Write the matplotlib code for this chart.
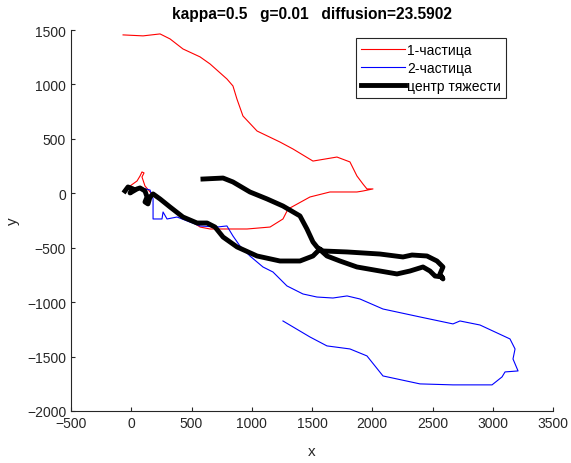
import matplotlib
matplotlib.use("Agg")
from matplotlib import pyplot as plt

plt.rcParams['font.family'] = ['Liberation Sans', 'DejaVu Sans']

# particle 1 (red), from start to end
x1 = [-52, -10, 48, 73, 89, 106, 89, 114, 156, 280, 446, 571, 654, 820, 961,
      1152, 1259, 1301, 1483, 1649, 1873, 1923, 2006, 1956, 1923, 1873, 1815,
      1707, 1508, 1342, 1234, 1044, 927, 877, 844, 794, 654, 571, 429, 322,
      239, 98, -68]
y1 = [40, 67, 113, 159, 196, 187, 150, 67, 12, -98, -218, -310, -328, -328,
      -328, -310, -236, -145, -34, 12, 12, 21, 40, 40, 85, 159, 288, 333, 296,
      407, 471, 572, 710, 866, 986, 1050, 1188, 1253, 1326, 1418, 1464, 1446,
      1455]

# particle 2 (blue)
x2 = [-10, 89, 156, 181, 181, 255, 264, 297, 380, 571, 712, 794, 844, 902,
      985, 1093, 1176, 1292, 1425, 1541, 1674, 1791, 1898, 2089, 2396, 2670,
      2728, 2894, 3143, 3185, 3168, 3210, 3102, 3077, 2994, 2670, 2396, 2089,
      1956, 1815, 1624, 1483, 1259]
y2 = [12, 49, 30, -52, -236, -236, -172, -236, -218, -300, -310, -300, -392,
      -484, -576, -677, -723, -851, -925, -953, -962, -943, -971, -1063, -1136,
      -1200, -1173, -1210, -1338, -1430, -1522, -1632, -1641, -1687, -1760,
      -1760, -1751, -1678, -1494, -1430, -1402, -1320, -1173]

# centre of mass (black)
xc = [-52, -27, 15, -10, 48, 73, 114, 131, 114, 139, 156, 181, 239, 322, 429,
      546, 629, 695, 762, 878, 1044, 1234, 1400, 1508, 1566, 1591, 1791, 2064,
      2255, 2330, 2454, 2537, 2587, 2562, 2587, 2579, 2521, 2479, 2421, 2313,
      2205, 2064, 1873, 1732, 1624, 1541, 1508, 1458, 1400, 1259, 1127, 985,
      844, 762, 595]
yc = [21, 58, 40, 3, 40, 49, 21, -34, -80, -98, -34, -6, -52, -126, -218,
      -273, -273, -310, -402, -493, -576, -622, -622, -576, -512, -530, -539,
      -558, -585, -567, -576, -622, -677, -741, -787, -769, -760, -714, -677,
      -714, -741, -714, -677, -622, -576, -493, -447, -328, -208, -117, -52,
      12, 104, 140, 131]

fig = plt.figure(figsize=(5.71, 4.64), dpi=100)
ax = fig.add_axes([71/571, 1 - 412/464, (553-71)/571, (412-31)/464])

ax.plot(x1, y1, color=(1, 0, 0), lw=0.8, label='1-частица')
ax.plot(x2, y2, color=(0, 0, 1), lw=0.8, label='2-частица')
ax.plot(xc, yc, color='k', lw=3.5, label='центр тяжести')

ax.set_xlim(-500, 3500)
ax.set_ylim(-2000, 1500)
ax.set_xticks(range(-500, 3501, 500))
ax.set_yticks(range(-2000, 1501, 500))

axc = '#262626'
for s in ['top', 'right']:
    ax.spines[s].set_visible(False)
for s in ['left', 'bottom']:
    ax.spines[s].set_color(axc)
    ax.spines[s].set_linewidth(0.8)
ax.tick_params(direction='in', length=3, width=0.8, color=axc,
               labelcolor=axc, labelsize=10)

ax.set_xlabel('x', fontsize=11, color=axc, labelpad=10)
ax.set_ylabel('y', fontsize=11, color=axc, labelpad=5)
ax.set_title('kappa=0.5   g=0.01   diffusion=23.5902', fontsize=11.2,
             fontweight='bold', pad=9)

leg = ax.legend(loc='upper right', bbox_to_anchor=(506/571, 1 - 39/464),
                bbox_transform=fig.transFigure, fontsize=10, fancybox=False,
                framealpha=1, edgecolor='#262626', handlelength=3.2,
                handletextpad=0.15, borderpad=0.35, labelspacing=0.3,
                borderaxespad=0)
leg.get_frame().set_linewidth(0.8)

fig.savefig('out.png', dpi=100)
